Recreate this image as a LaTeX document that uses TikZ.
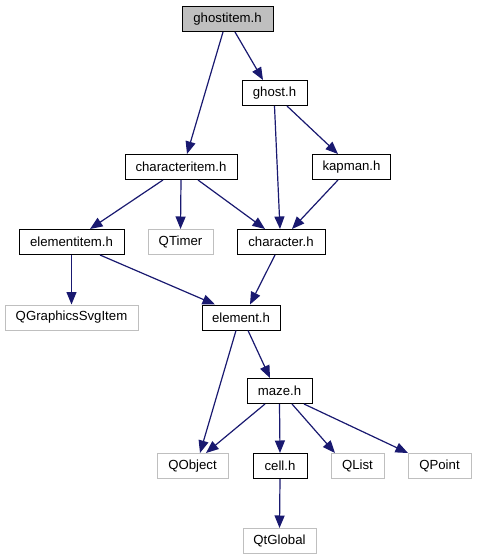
\documentclass[tikz,border=0pt]{standalone}
\usepackage{fontspec}
\setmainfont{Liberation Sans}
\usetikzlibrary{arrows.meta}
\definecolor{edgeblue}{HTML}{191970}
\definecolor{extgray}{HTML}{BFBFBF}
\tikzset{
  box/.style={draw=black, line width=1pt, fill=white, minimum height=25pt, inner sep=0pt, font=\fontsize{13.2}{15}\selectfont},
  extbox/.style={box, draw=extgray},
  mainbox/.style={box, fill=extgray},
  dep/.style={draw=edgeblue, line width=1.2pt, -{Triangle[length=12.5pt,width=10pt]}, color=edgeblue}
}
\begin{document}
\begin{tikzpicture}[x=1pt,y=-1pt]
\useasboundingbox (0,0) rectangle (477,560);
\node[mainbox, minimum width=91pt] (ghostitem) at (227.5,19) {ghostitem.h};
\node[box, minimum width=65pt] (ghost) at (274.5,93) {ghost.h};
\node[box, minimum width=112pt] (characteritem) at (181,167) {characteritem.h};
\node[box, minimum width=78pt] (kapman) at (351.5,167) {kapman.h};
\node[box, minimum width=105pt] (elementitem) at (71.5,242) {elementitem.h};
\node[extbox, minimum width=65pt] (qtimer) at (180.5,242) {QTimer};
\node[box, minimum width=88pt] (character) at (281,242) {character.h};
\node[extbox, minimum width=133pt] (qgsvg) at (71.5,317.5) {QGraphicsSvgItem};
\node[box, minimum width=78pt] (element) at (241,317.5) {element.h};
\node[box, minimum width=65pt] (maze) at (279.5,391) {maze.h};
\node[extbox, minimum width=71pt] (qobject) at (192.5,466) {QObject};
\node[box, minimum width=54pt] (cell) at (280,466) {cell.h};
\node[extbox, minimum width=53pt] (qlist) at (357.5,466) {QList};
\node[extbox, minimum width=63pt] (qpoint) at (439.5,466) {QPoint};
\node[extbox, minimum width=73pt] (qtglobal) at (279.5,541) {QtGlobal};

\draw[dep] ([xshift=-4.5pt]ghostitem.south) -- ([xshift=6pt]characteritem.north);
\draw[dep] ([xshift=7.5pt]ghostitem.south) -- ([xshift=-11.5pt]ghost.north);
\draw[dep] (ghost.south) -- ([xshift=-1pt]character.north);
\draw[dep] ([xshift=12.5pt]ghost.south) -- ([xshift=-13.5pt]kapman.north);
\draw[dep] ([xshift=-13.5pt]kapman.south) -- ([xshift=11pt]character.north);
\draw[dep] ([xshift=-18pt]characteritem.south) -- ([xshift=18.5pt]elementitem.north);
\draw[dep] (characteritem.south) -- (qtimer.north);
\draw[dep] ([xshift=17pt]characteritem.south) -- ([xshift=-16pt]character.north);
\draw[dep] (elementitem.south) -- (qgsvg.north);
\draw[dep] ([xshift=28.5pt]elementitem.south) -- ([xshift=-26pt]element.north);
\draw[dep] ([xshift=-6pt]character.south) -- ([xshift=9pt]element.north);
\draw[dep] ([xshift=-5pt]element.south) -- ([xshift=7.5pt]qobject.north);
\draw[dep] ([xshift=7pt]element.south) -- ([xshift=-9.5pt]maze.north);
\draw[dep] ([xshift=-14.5pt]maze.south) -- ([xshift=13.5pt]qobject.north);
\draw[dep] (maze.south) -- (cell.north);
\draw[dep] ([xshift=12.5pt]maze.south) -- ([xshift=-22.5pt]qlist.north);
\draw[dep] ([xshift=24.5pt]maze.south) -- ([xshift=-31.5pt]qpoint.north);
\draw[dep] (cell.south) -- (qtglobal.north);
\end{tikzpicture}
\end{document}
